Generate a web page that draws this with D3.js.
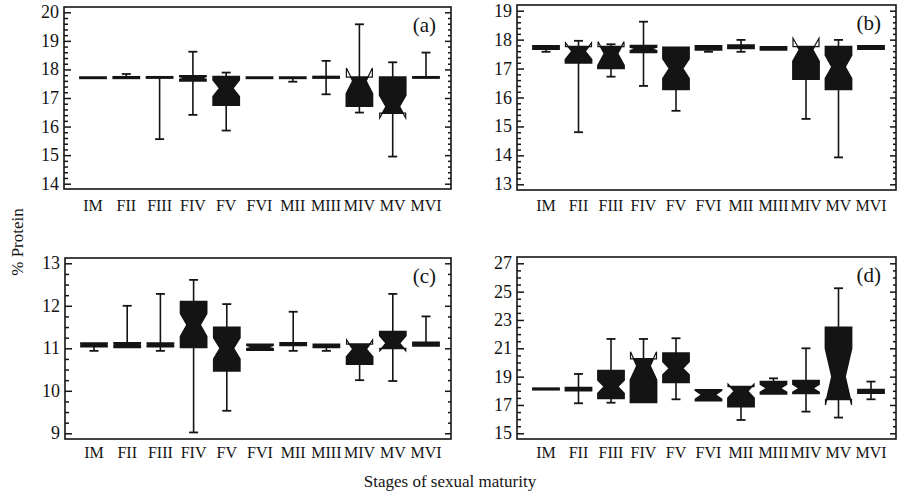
<!DOCTYPE html>
<html><head><meta charset="utf-8">
<script src="https://cdn.jsdelivr.net/npm/d3@7"></script>
<style>body{margin:0;background:#fff}svg{display:block}</style>
</head><body>
<script>
const categories = ["IM","FII","FIII","FIV","FV","FVI","MII","MIII","MIV","MV","MVI"];

// Panel (a)
const aLow  = [17.71,17.67,15.56,16.41,15.86,17.71,17.57,17.13,16.49,14.95,17.71];
const aQ1   = [17.69,17.69,17.70,17.60,16.75,17.69,17.69,17.70,16.72,16.47,17.70];
const aMed  = [17.71,17.72,17.72,17.70,17.34,17.71,17.71,17.73,17.60,16.70,17.72];
const aQ3   = [17.73,17.74,17.74,17.77,17.75,17.73,17.73,17.75,17.73,17.73,17.74];
const aHigh = [17.73,17.84,17.74,18.62,17.89,17.73,17.73,18.30,19.58,18.25,18.59];
const aNLo  = [17.71,17.72,17.72,17.65,17.05,17.71,17.71,17.73,17.15,16.30,17.72];
const aNHi  = [17.71,17.72,17.72,17.75,17.63,17.71,17.71,17.73,18.05,17.10,17.72];

// Panel (b)
const bLow  = [17.58,14.80,16.72,16.40,15.54,17.58,17.58,17.64,15.26,13.93,17.66];
const bQ1   = [17.67,17.20,17.01,17.56,16.28,17.65,17.70,17.65,16.64,16.28,17.67];
const bMed  = [17.72,17.60,17.52,17.68,17.00,17.72,17.76,17.70,17.65,17.06,17.72];
const bQ3   = [17.78,17.76,17.76,17.79,17.73,17.78,17.81,17.75,17.76,17.76,17.78];
const bHigh = [17.78,17.96,17.84,18.62,17.76,17.78,17.99,17.75,17.76,17.99,17.78];
const bNLo  = [17.70,17.31,17.11,17.62,16.66,17.70,17.74,17.70,17.25,16.66,17.72];
const bNHi  = [17.74,17.89,17.93,17.74,17.34,17.74,17.78,17.70,18.05,17.46,17.72];

// Panel (c)
const cLow  = [10.94,11.00,10.94, 9.02, 9.53,10.96,10.94,10.94,10.25,10.23,11.04];
const cQ1   = [11.04,11.02,11.04,11.02,10.47,10.96,11.07,11.02,10.63,11.00,11.06];
const cMed  = [11.08,11.08,11.08,11.55,11.00,11.03,11.10,11.06,10.98,11.12,11.10];
const cQ3   = [11.12,11.13,11.12,12.10,11.49,11.09,11.13,11.09,11.10,11.39,11.14];
const cHigh = [11.12,12.00,12.28,12.61,12.04,11.09,11.86,11.09,11.10,12.28,11.75];
const cNLo  = [11.06,11.06,11.06,11.28,10.75,10.99,11.09,11.05,10.80,10.94,11.10];
const cNHi  = [11.10,11.10,11.10,11.82,11.25,11.07,11.11,11.07,11.20,11.30,11.10];

// Panel (d)
const dLow  = [18.13,17.12,17.16,17.12,17.40,17.31,15.94,17.78,16.53,16.11,17.40];
const dQ1   = [18.08,18.02,17.47,17.19,18.60,17.31,16.88,17.78,17.82,17.40,17.84];
const dMed  = [18.13,18.13,18.29,19.76,19.59,17.72,17.98,18.18,18.18,19.00,17.97];
const dQ3   = [18.18,18.22,19.42,20.25,20.65,18.06,18.29,18.65,18.72,22.48,18.08];
const dHigh = [18.18,19.19,21.66,21.66,21.71,18.06,18.29,18.88,21.00,25.24,18.65];
const dNLo  = [18.13,18.13,17.82,18.76,19.12,17.40,17.48,17.90,17.90,17.00,17.97];
const dNHi  = [18.13,18.13,18.76,20.76,20.06,18.04,18.48,18.46,18.46,21.00,17.97];

const aTicks = [14,15,16,17,18,19,20];
const bTicks = [13,14,15,16,17,18,19];
const cTicks = [9,10,11,12,13];
const dTicks = [15,17,19,21,23,25,27];
const panelLabels = ["(a)","(b)","(c)","(d)"];
const xTitle = "Stages of sexual maturity";
const yTitle = "% Protein";

const panels = [
  {lab:panelLabels[0], low:aLow,q1:aQ1,med:aMed,q3:aQ3,high:aHigh,nlo:aNLo,nhi:aNHi,ticks:aTicks,minor:0.2,
   x0:64,x1:451,y0:7,y1:189,r0:183.7,r1:12.3,labY:211},
  {lab:panelLabels[1], low:bLow,q1:bQ1,med:bMed,q3:bQ3,high:bHigh,nlo:bNLo,nhi:bNHi,ticks:bTicks,minor:0.2,
   x0:517,x1:896,y0:5,y1:190,r0:184.3,r1:10.7,labY:211},
  {lab:panelLabels[2], low:cLow,q1:cQ1,med:cMed,q3:cQ3,high:cHigh,nlo:cNLo,nhi:cNHi,ticks:cTicks,minor:0.25,
   x0:65,x1:451,y0:258,y1:439,r0:433.3,r1:263.3,labY:458},
  {lab:panelLabels[3], low:dLow,q1:dQ1,med:dMed,q3:dQ3,high:dHigh,nlo:dNLo,nhi:dNHi,ticks:dTicks,minor:0.5,
   x0:517,x1:896,y0:257,y1:439,r0:433.3,r1:263.3,labY:458}
];

const W=898,H=496;
const FONT = "'Liberation Serif','Times New Roman','DejaVu Serif',serif";
const svg = d3.select("body").append("svg").attr("width",W).attr("height",H)
  .attr("font-family",FONT);
const ink = "#141414";

panels.forEach(p=>{
  const g = svg.append("g");
  const tmin = d3.min(p.ticks), tmax = d3.max(p.ticks);
  const y = d3.scaleLinear().domain([tmin,tmax]).range([p.r0,p.r1]);
  const x = d3.scalePoint().domain(categories).range([p.x0+29,p.x1-25]);
  const bw = 26, half = bw/2, inner = bw/4;

  const vmin = y.invert(p.y1), vmax = y.invert(p.y0);
  const minors = d3.range(Math.ceil(vmin/p.minor-1e-9), Math.floor(vmax/p.minor+1e-9)+1)
     .map(k=>+(k*p.minor).toFixed(4))
     .filter(v=>!p.ticks.includes(v));
  const axL = d3.axisRight(y).tickValues(p.ticks).tickSize(7).tickFormat("");
  const axLm = d3.axisRight(y).tickValues(minors).tickSize(4).tickFormat("");
  const axR = d3.axisLeft(y).tickValues(p.ticks).tickSize(6).tickFormat("");
  const axRm = d3.axisLeft(y).tickValues(minors).tickSize(3).tickFormat("");
  [[axL,p.x0],[axLm,p.x0],[axR,p.x1],[axRm,p.x1]].forEach(([ax,xx])=>{
    const a = g.append("g").attr("transform",`translate(${xx},0)`).call(ax);
    a.select(".domain").remove();
    a.selectAll("line").attr("stroke",ink).attr("stroke-width",1.5);
  });
  g.selectAll(".tl").data(p.ticks).join("text")
    .attr("x",p.x0-5).attr("y",d=>y(d)+6).attr("text-anchor","end")
    .attr("font-size",18).attr("fill",ink).text(d=>d);
  g.append("rect").attr("x",p.x0).attr("y",p.y0).attr("width",p.x1-p.x0).attr("height",p.y1-p.y0)
    .attr("fill","none").attr("stroke",ink).attr("stroke-width",1.6);
  g.selectAll(".cl").data(categories).join("text")
    .attr("x",d=>x(d)).attr("y",p.labY).attr("text-anchor","middle")
    .attr("font-size",16).attr("fill",ink).text(d=>d);
  g.append("text").attr("x",p.x1-15).attr("y",p.y0+25).attr("text-anchor","end")
    .attr("font-size",21).attr("fill",ink).text(p.lab);

  categories.forEach((c,i)=>{
    const cx = x(c);
    const q1=p.q1[i], q3=p.q3[i], med=p.med[i], nlo=p.nlo[i], nhi=p.nhi[i];
    [[q3,p.high[i]],[q1,p.low[i]]].forEach(([a,b])=>{
      if (Math.abs(y(a)-y(b))>1){
        g.append("line").attr("x1",cx).attr("x2",cx).attr("y1",y(a)).attr("y2",y(b))
          .attr("stroke",ink).attr("stroke-width",1.6);
        g.append("line").attr("x1",cx-4.5).attr("x2",cx+4.5).attr("y1",y(b)).attr("y2",y(b))
          .attr("stroke",ink).attr("stroke-width",1.8);
      }
    });
    const hw = v=>{
      if (v>=nhi || v<=nlo) return half;
      if (v>=med) return nhi===med?half: inner+(half-inner)*(v-med)/(nhi-med);
      return med===nlo?half: inner+(half-inner)*(med-v)/(med-nlo);
    };
    const vals = Array.from(new Set([q1,nlo,med,nhi,q3].filter(v=>v>=q1&&v<=q3))).sort((a,b)=>a-b);
    const pts = vals.map(v=>[cx-hw(v),y(v)]).concat(vals.slice().reverse().map(v=>[cx+hw(v),y(v)]));
    g.append("path").attr("d",d3.line()(pts)+"Z").attr("fill",ink).attr("stroke",ink).attr("stroke-width",1.8)
      .attr("stroke-linejoin","miter");
    const ears = [];
    if (nhi>q3) ears.push([q3,nhi]);
    if (nlo<q1) ears.push([q1,nlo]);
    ears.forEach(([edge,tip])=>{
      [-1,1].forEach(s=>{
        const tri = [[cx+s*hw(edge),y(edge)],[cx+s*half,y(tip)],[cx+s*half,y(edge)]];
        g.append("path").attr("d",d3.line()(tri)+"Z").attr("fill","#fff").attr("stroke",ink).attr("stroke-width",1.2);
      });
    });
  });
});

svg.append("text").attr("transform","translate(23,242) rotate(-90)").attr("text-anchor","middle")
  .attr("font-size",17).attr("fill",ink).text(yTitle);
svg.append("text").attr("x",450).attr("y",487).attr("text-anchor","middle")
  .attr("font-size",17).attr("fill",ink).text(xTitle);
</script>
</body></html>
